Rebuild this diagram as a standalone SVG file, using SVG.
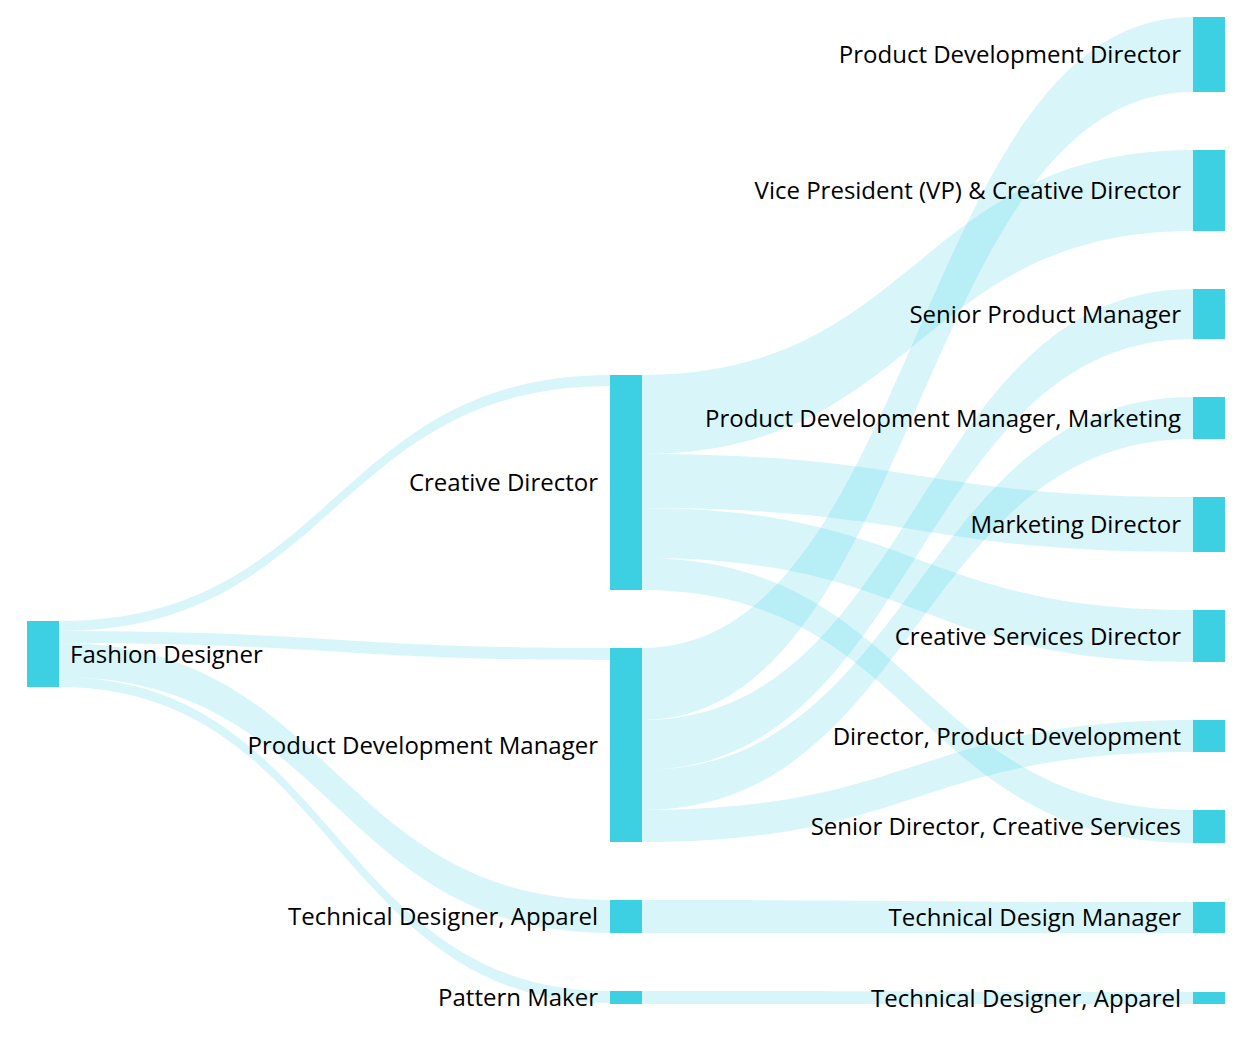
<svg xmlns="http://www.w3.org/2000/svg" width="1260" height="1048" viewBox="0 0 1260 1048">
<style>
.link{fill:rgba(61,208,228,0.2);stroke:none}
.node{fill:#3dd0e3}
.lbl{font-family:"Open Sans","Noto Sans","Liberation Sans",sans-serif;font-size:24px;fill:#000}
.e{text-anchor:end}
</style>
<rect width="1260" height="1048" fill="#fff"/>
<g id="links">
<path class="link" d="M59,621 C334.5,621 334.5,375 610,375 L610,386 C334.5,386 334.5,631 59,631 Z"/>
<path class="link" d="M59,631 C334.5,631 334.5,648 610,648 L610,660 C334.5,660 334.5,643 59,643 Z"/>
<path class="link" d="M59,643 C334.5,643 334.5,900 610,900 L610,933 C334.5,933 334.5,677 59,677 Z"/>
<path class="link" d="M59,677 C334.5,677 334.5,991 610,991 L610,1003 C334.5,1003 334.5,687 59,687 Z"/>
<path class="link" d="M642,375 C917.5,375 917.5,150 1193,150 L1193,231 C917.5,231 917.5,454 642,454 Z"/>
<path class="link" d="M642,454 C917.5,454 917.5,497 1193,497 L1193,552 C917.5,552 917.5,508 642,508 Z"/>
<path class="link" d="M642,508 C917.5,508 917.5,610 1193,610 L1193,662 C917.5,662 917.5,558 642,558 Z"/>
<path class="link" d="M642,558 C917.5,558 917.5,810 1193,810 L1193,843 C917.5,843 917.5,590 642,590 Z"/>
<path class="link" d="M642,648 C917.5,648 917.5,17 1193,17 L1193,92 C917.5,92 917.5,720 642,720 Z"/>
<path class="link" d="M642,720 C917.5,720 917.5,289 1193,289 L1193,339 C917.5,339 917.5,770 642,770 Z"/>
<path class="link" d="M642,770 C917.5,770 917.5,397 1193,397 L1193,439 C917.5,439 917.5,810 642,810 Z"/>
<path class="link" d="M642,810 C917.5,810 917.5,720 1193,720 L1193,752 C917.5,752 917.5,842 642,842 Z"/>
<path class="link" d="M642,900 C917.5,900 917.5,902 1193,902 L1193,933 C917.5,933 917.5,933 642,933 Z"/>
<path class="link" d="M642,991 C917.5,991 917.5,992 1193,992 L1193,1004 C917.5,1004 917.5,1004 642,1004 Z"/>
</g>
<g id="n-fashion-designer"><rect class="node" x="27" y="621" width="32" height="66"/><text class="lbl" x="70" y="662.6">Fashion Designer</text></g>
<g id="n-creative-director"><rect class="node" x="610" y="375" width="32" height="215"/><text class="lbl e" x="598" y="491">Creative Director</text></g>
<g id="n-product-development-manager"><rect class="node" x="610" y="648" width="32" height="194"/><text class="lbl e" x="598" y="753.5">Product Development Manager</text></g>
<g id="n-technical-designer-apparel"><rect class="node" x="610" y="900" width="32" height="33"/><text class="lbl e" x="598" y="925">Technical Designer, Apparel</text></g>
<g id="n-pattern-maker"><rect class="node" x="610" y="991" width="32" height="13"/><text class="lbl e" x="598" y="1006">Pattern Maker</text></g>
<g id="n-product-development-director"><rect class="node" x="1193" y="17" width="32" height="75"/><text class="lbl e" x="1181" y="63">Product Development Director</text></g>
<g id="n-vp-creative-director"><rect class="node" x="1193" y="150" width="32" height="81"/><text class="lbl e" x="1181" y="199">Vice President (VP) &amp; Creative Director</text></g>
<g id="n-senior-product-manager"><rect class="node" x="1193" y="289" width="32" height="50"/><text class="lbl e" x="1181" y="322.5">Senior Product Manager</text></g>
<g id="n-pdm-marketing"><rect class="node" x="1193" y="397" width="32" height="42"/><text class="lbl e" x="1181" y="426.5">Product Development Manager, Marketing</text></g>
<g id="n-marketing-director"><rect class="node" x="1193" y="497" width="32" height="55"/><text class="lbl e" x="1181" y="533">Marketing Director</text></g>
<g id="n-creative-services-director"><rect class="node" x="1193" y="610" width="32" height="52"/><text class="lbl e" x="1181" y="644.5">Creative Services Director</text></g>
<g id="n-director-product-development"><rect class="node" x="1193" y="720" width="32" height="32"/><text class="lbl e" x="1181" y="744.5">Director, Product Development</text></g>
<g id="n-senior-director-creative-services"><rect class="node" x="1193" y="810" width="32" height="33"/><text class="lbl e" x="1181" y="835">Senior Director, Creative Services</text></g>
<g id="n-technical-design-manager"><rect class="node" x="1193" y="902" width="32" height="31"/><text class="lbl e" x="1181" y="926">Technical Design Manager</text></g>
<g id="n-technical-designer-apparel-2"><rect class="node" x="1193" y="992" width="32" height="12"/><text class="lbl e" x="1181" y="1006.5">Technical Designer, Apparel</text></g>
</svg>
